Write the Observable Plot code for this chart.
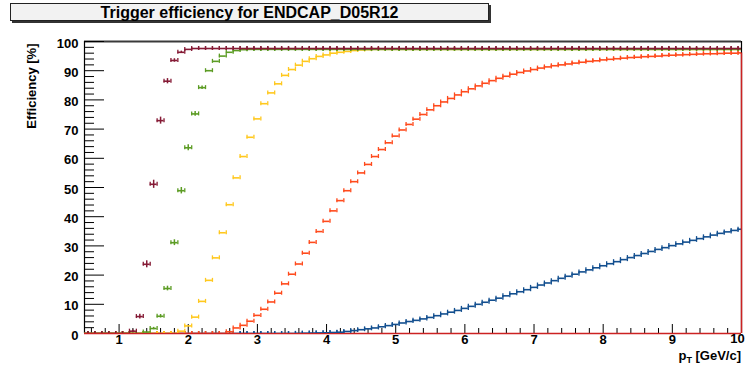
<!DOCTYPE html>
<html>
<head>
<meta charset="utf-8">
<script src="https://cdn.jsdelivr.net/npm/d3@7"></script>
<script src="https://cdn.jsdelivr.net/npm/@observablehq/plot@0.6"></script>
<style>
  html, body { margin: 0; padding: 0; background: #fff; }
  #wrap { position: relative; width: 745px; height: 365px; font-family: "Liberation Sans", Arial, Helvetica, sans-serif; font-weight: bold; }
  #wrap svg { position: absolute; left: 0; top: 0; }
  #title { position: absolute; left: 10px; top: 3px; width: 477px; height: 16px; border: 1px solid #222; background: #f2f2f2;
           box-shadow: 2px 2px 0 #333; font-size: 16px; line-height: 17px; text-align: center; color: #000; }
  #xtitle { position: absolute; right: 4px; top: 350px; font-size: 13px; line-height: 12px; color: #000; }
  #xtitle sub { font-size: 9px; vertical-align: -3px; line-height: 0; }
</style>
</head>
<body>
<div id="wrap">
  <div id="title">Trigger efficiency for ENDCAP_D05R12</div>
  <div id="xtitle">p<sub>T</sub> [GeV/c]</div>
</div>
<script>
// ---- Data (efficiency in % per p_T bin; bins of width 0.1 GeV/c centred at 0.5, 0.6, ..., 10.0) ----
const binStart = 0.5;
const binWidth = 0.1;

const seriesColors = ["#134f8f", "#ff4a1c", "#ffc81e", "#5c9c24", "#851a35"];

// dark red (lowest threshold)
const effMaroon = [
  0, 0, 0, 0, 0, 0, 0,
  0.8, 5.8, 23.7, 51.1, 72.9, 86.4, 93.5, 96.3, 97.3,
  97.6, 97.6, 97.6, 97.6, 97.6, 97.6, 97.6, 97.6, 97.6, 97.6,
  97.6, 97.6, 97.6, 97.6, 97.6, 97.6, 97.6, 97.6, 97.6, 97.6,
  97.6, 97.6, 97.6, 97.6, 97.6, 97.6, 97.6, 97.6, 97.6, 97.6,
  97.6, 97.6, 97.6, 97.6, 97.6, 97.6, 97.6, 97.6, 97.6, 97.6,
  97.6, 97.6, 97.6, 97.6, 97.6, 97.6, 97.6, 97.6, 97.6, 97.6,
  97.6, 97.6, 97.6, 97.6, 97.6, 97.6, 97.6, 97.6, 97.6, 97.6,
  97.6, 97.6, 97.6, 97.6, 97.6, 97.6, 97.6, 97.6, 97.6, 97.6,
  97.6, 97.6, 97.6, 97.6, 97.6, 97.6, 97.6, 97.6, 97.6, 97.6
];
// green
const effGreen = [
  0, 0, 0, 0, 0, 0, 0, 0, 0,
  0.5, 1.7, 5.9, 15.4, 31.1, 48.9, 63.6, 75.2, 84.2, 90.0, 93.2, 95.0, 96.3, 96.9, 97.2,
  97.3, 97.3, 97.3, 97.3, 97.3, 97.3, 97.3, 97.3, 97.3, 97.3, 97.3, 97.3,
  97.3, 97.3, 97.3, 97.3, 97.3, 97.3, 97.3, 97.3, 97.3, 97.3, 97.3, 97.3,
  97.3, 97.3, 97.3, 97.3, 97.3, 97.3, 97.3, 97.3, 97.3, 97.3, 97.3, 97.3,
  97.3, 97.3, 97.3, 97.3, 97.3, 97.3, 97.3, 97.3, 97.3, 97.3, 97.3, 97.3,
  97.3, 97.3, 97.3, 97.3, 97.3, 97.3, 97.3, 97.3, 97.3, 97.3, 97.3, 97.3,
  97.3, 97.3, 97.3, 97.3, 97.3, 97.3, 97.3, 97.3, 97.3, 97.3, 97.3, 97.3
];
// yellow
const effYellow = [
  0, 0, 0, 0, 0, 0, 0, 0, 0, 0, 0, 0, 0, 0,
  0.8, 2.6, 5.6, 11.0, 18.2, 25.9, 34.5, 44.1, 53.3, 60.6, 67.2, 73.5, 78.7, 82.4,
  85.5, 88.4, 90.4, 91.9, 93.2, 94.1, 94.9, 95.4, 96.0, 96.3, 96.6, 96.9, 97.1, 97.2,
  97.3, 97.3, 97.3, 97.3, 97.3, 97.3, 97.3, 97.3, 97.3, 97.3, 97.3, 97.3,
  97.3, 97.3, 97.3, 97.3, 97.3, 97.3, 97.3, 97.3, 97.3, 97.3, 97.3, 97.3,
  97.3, 97.3, 97.3, 97.3, 97.3, 97.3, 97.3, 97.3, 97.3, 97.3, 97.3, 97.3,
  97.3, 97.3, 97.3, 97.3, 97.3, 97.3, 97.3, 97.3, 97.3, 97.3, 97.3, 97.3,
  97.3, 97.3, 97.3, 97.3, 97.3, 97.3
];
// orange-red
const effOrange = [
  0, 0, 0, 0, 0, 0, 0, 0, 0, 0, 0, 0, 0, 0, 0, 0, 0, 0, 0, 0, 0,
  0.6, 1.9, 2.8, 4.2, 6.2, 8.3, 10.8, 13.8, 17.0, 20.3,
  23.8, 27.5, 31.2, 34.9, 38.4, 42.0, 45.5, 48.9, 52.0, 55.0,
  57.9, 60.6, 63.0, 65.3, 67.6, 69.7, 71.6, 73.4, 75.0, 76.6,
  78.0, 79.3, 80.5, 81.7, 82.8, 83.8, 84.8, 85.7, 86.6, 87.4,
  88.1, 88.8, 89.4, 89.9, 90.4, 90.9, 91.3, 91.7, 92.0, 92.3,
  92.6, 92.9, 93.2, 93.4, 93.7, 93.9, 94.1, 94.3, 94.5, 94.6,
  94.8, 94.9, 95.0, 95.2, 95.3, 95.4, 95.5, 95.6, 95.7, 95.8,
  95.8, 95.9, 96.0, 96.0, 96.1
];
// blue (highest threshold)
const effBlue = [
  0, 0, 0, 0, 0, 0, 0, 0, 0, 0, 0, 0, 0, 0, 0, 0,
  0, 0, 0, 0, 0, 0, 0, 0, 0, 0, 0, 0, 0, 0, 0,
  0.05, 0.1, 0.15, 0.2, 0.25, 0.35, 0.45, 0.7, 1.0, 1.3,
  1.6, 1.9, 2.3, 2.7, 3.1, 3.6, 4.1, 4.5, 5.0, 5.5,
  6.1, 6.7, 7.3, 7.9, 8.6, 9.3, 10.0, 10.7, 11.4, 12.1,
  12.9, 13.6, 14.3, 15.0, 15.8, 16.6, 17.3, 18.1, 18.9, 19.6,
  20.3, 21.1, 21.8, 22.5, 23.2, 23.9, 24.6, 25.3, 26.0, 26.7,
  27.4, 28.1, 28.8, 29.4, 30.1, 30.7, 31.3, 31.9, 32.5, 33.1,
  33.7, 34.3, 34.8, 35.3, 35.7
];

// statistical errors visible on the low-statistics points [pT, error]
const maroonErrX = [1.2, 1.3, 1.4, 1.5, 1.6, 1.7, 1.8, 1.9];
const maroonErr  = [0.4, 0.8, 1.2, 1.4, 1.2, 0.9, 0.6, 0.4];
const greenErrX  = [1.5, 1.6, 1.7, 1.8, 1.9, 2.0, 2.1, 2.2];
const greenErr   = [0.4, 0.6, 0.8, 1.0, 1.1, 1.0, 0.8, 0.6];

// axis ticks / labels
const xMajor = [1, 2, 3, 4, 5, 6, 7, 8, 9, 10];
const yMajor = [0, 10, 20, 30, 40, 50, 60, 70, 80, 90, 100];
const xMinor = d3.range(0.6, 10.001, 0.2).map(v => +v.toFixed(1)).filter(v => Math.abs(v - Math.round(v)) > 1e-6);
const yMinor = d3.range(0, 101, 2).filter(v => v % 10 !== 0);
const yTitle = "Efficiency [%]";

// ---- build table ----
const allSeries = [effBlue, effOrange, effYellow, effGreen, effMaroon];
const rows = [];
allSeries.forEach((vals, s) => {
  vals.forEach((v, i) => rows.push({s, x: binStart + i * binWidth, v}));
});
const errRows = [];
maroonErrX.forEach((x, i) => {
  const v = effMaroon[Math.round((x - binStart) / binWidth)];
  errRows.push({s: 4, x, lo: v - maroonErr[i], hi: v + maroonErr[i]});
});
greenErrX.forEach((x, i) => {
  const v = effGreen[Math.round((x - binStart) / binWidth)];
  errRows.push({s: 3, x, lo: v - greenErr[i], hi: v + greenErr[i]});
});

const W = 745, H = 365, mL = 84, mR = 4, mT = 41, mB = 32;
const plotW = W - mL - mR, plotH = H - mT - mB;
const half = binWidth / 2;
const col = d => seriesColors[d.s];

const dataMarks = [];
for (let s = 0; s < allSeries.length; s++) {
  const R = rows.filter(d => d.s === s);
  const E = errRows.filter(d => d.s === s);
  dataMarks.push(
    Plot.ruleX(E, {x: "x", y1: "lo", y2: "hi", stroke: col, strokeWidth: 1.5, clip: true}),
    Plot.ruleY(R, {y: "v", x1: d => d.x - half, x2: d => d.x + half, stroke: col, strokeWidth: 1.6, clip: true}),
    Plot.ruleX(R, {x: d => d.x - half, y1: "v", y2: "v", insetTop: -2, insetBottom: -2, stroke: col, strokeWidth: 1.3, clip: true}),
    Plot.ruleX(R, {x: d => d.x + half, y1: "v", y2: "v", insetTop: -2, insetBottom: -2, stroke: col, strokeWidth: 1.3, clip: true})
  );
}

const chart = Plot.plot({
  width: W, height: H,
  marginLeft: mL, marginRight: mR, marginTop: mT, marginBottom: mB,
  x: {domain: [0.5, 10], axis: null},
  y: {domain: [0, 100], axis: null},
  style: {fontFamily: "'Liberation Sans', Arial, Helvetica, sans-serif", fontWeight: "bold", fontSize: "13px", color: "#000", background: "transparent", overflow: "visible"},
  marks: [
    // frame
    Plot.ruleY([100], {stroke: "#3a3a3a", strokeWidth: 2}),
    Plot.ruleX([0.5], {stroke: "#000", strokeWidth: 1.2}),
    Plot.ruleX([10], {stroke: "#000", strokeWidth: 1.2}),
    // ticks (inside frame, ROOT style)
    Plot.ruleY(yMajor, {y: d => d, insetRight: plotW - 20, stroke: "#000", strokeWidth: 1}),
    Plot.ruleY(yMinor, {y: d => d, insetRight: plotW - 10, stroke: "#000", strokeWidth: 1}),
    Plot.ruleX(xMajor, {x: d => d, insetTop: plotH - 9, stroke: "#000", strokeWidth: 1}),
    Plot.ruleX(xMinor, {x: d => d, insetTop: plotH - 5, stroke: "#000", strokeWidth: 1}),
    // red outline along the base (beneath the series) and right edge
    Plot.ruleY([0], {stroke: "#cc2222", strokeWidth: 1.5}),
    ...dataMarks,
    Plot.ruleX([10], {y1: 0, y2: effOrange[effOrange.length - 1], stroke: "#cc2222", strokeWidth: 1.5}),
    // tick labels
    Plot.text(yMajor, {y: d => d, text: d => String(d), frameAnchor: "left", dx: -6, dy: 2, textAnchor: "end", fontSize: 13, fontWeight: "bold", fill: "#000"}),
    Plot.text(xMajor.filter(d => d < 10), {x: d => d, text: d => String(d), frameAnchor: "bottom", dy: 10, textAnchor: "middle", fontSize: 13, fontWeight: "bold", fill: "#000"}),
    Plot.text(xMajor.filter(d => d === 10), {x: d => d, text: d => String(d), frameAnchor: "bottom", dy: 9, dx: -4, textAnchor: "middle", fontSize: 13, fontWeight: "bold", fill: "#000"}),
    // y title
    Plot.text([yTitle], {text: d => d, frameAnchor: "top-left", dx: -58, dy: 2, rotate: -90, textAnchor: "end", fontSize: 13, fontWeight: "bold", fill: "#000"})
  ]
});
document.getElementById("wrap").prepend(chart);
</script>
</body>
</html>
